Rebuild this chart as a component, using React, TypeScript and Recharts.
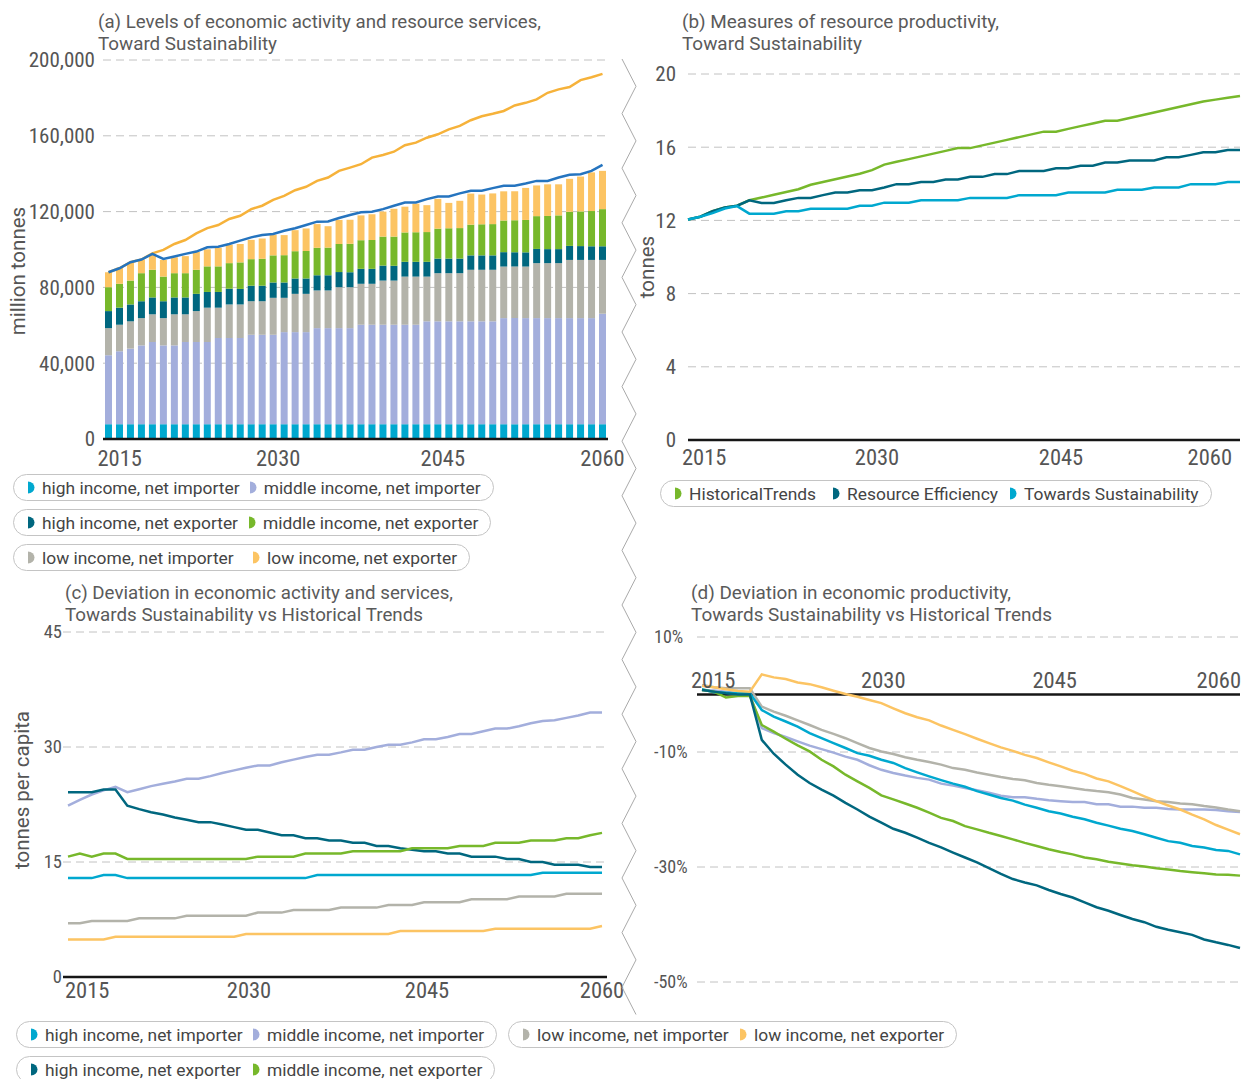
import React from "react";
import {
  ComposedChart,
  LineChart,
  Bar,
  Line,
  XAxis,
  YAxis,
  CartesianGrid,
  ReferenceLine,
  ReferenceDot,
} from "recharts";

// ---- categories ----
const YEARS = [
  2015, 2016, 2017, 2018, 2019, 2020, 2021, 2022, 2023, 2024,
  2025, 2026, 2027, 2028, 2029, 2030, 2031, 2032, 2033, 2034,
  2035, 2036, 2037, 2038, 2039, 2040, 2041, 2042, 2043, 2044,
  2045, 2046, 2047, 2048, 2049, 2050, 2051, 2052, 2053, 2054,
  2055, 2056, 2057, 2058, 2059, 2060,
];
const YEAR_TICKS = [2015, 2030, 2045, 2060];

// ---- (a) stacked levels, million tonnes ----
const A_HI_IMP = [
  7800, 7800, 7800, 7800, 7800, 7800, 7800, 7800, 7800, 7800,
  7800, 7800, 7800, 7800, 7800, 7800, 7800, 7800, 7800, 7800,
  7800, 7800, 7800, 7800, 7800, 7800, 7800, 7800, 7800, 7800,
  7800, 7800, 7800, 7800, 7800, 7800, 7800, 7800, 7800, 7800,
  7800, 7800, 7800, 7800, 7800, 7800,
];
const A_MID_IMP = [
  36400, 38500, 39900, 41600, 43400, 41600, 41600, 43400, 43400, 43400,
  45500, 45500, 45500, 47200, 47200, 47200, 48600, 48600, 48600, 50700,
  50700, 50700, 50700, 52500, 52500, 52500, 52500, 52500, 52500, 54300,
  54300, 54300, 54300, 54300, 54300, 54300, 56000, 56000, 56000, 56000,
  56000, 56000, 56000, 56000, 56000, 58300,
];
const A_LOW_IMP = [
  14300, 14000, 14400, 14400, 14600, 14400, 16400, 14600, 16300, 18100,
  16000, 17700, 17700, 17700, 17700, 19500, 18100, 20200, 20200, 19900,
  19900, 21600, 21600, 21600, 21600, 23300, 23300, 25400, 25400, 23600,
  25400, 25400, 25400, 27200, 27200, 27200, 27200, 27200, 27200, 29000,
  29000, 29000, 30700, 30700, 30700, 28400,
];
const A_HI_EXP = [
  9000, 9000, 8900, 8900, 8900, 8900, 8900, 8900, 9100, 8300,
  8300, 8300, 8200, 8200, 8200, 8100, 8100, 8100, 8100, 8000,
  8000, 8000, 7900, 7900, 7900, 7900, 7800, 7800, 7800, 7800,
  7700, 7700, 7700, 7600, 7600, 7600, 7600, 7500, 7500, 7500,
  7400, 7400, 7400, 7300, 7200, 7200,
];
const A_MID_EXP = [
  12600, 12600, 12600, 14800, 14600, 13000, 12800, 12800, 12700, 13500,
  13500, 13500, 14000, 14000, 14200, 14300, 14400, 14400, 14500, 14500,
  14600, 14800, 15000, 15100, 15200, 15300, 15400, 15500, 15600, 15700,
  15800, 16000, 16100, 16200, 16400, 16500, 16700, 16900, 17100, 17300,
  17500, 17800, 18000, 18300, 18600, 19600,
];
const A_LOW_EXP = [
  7900, 8500, 9400, 7200, 8000, 8800, 8400, 9000, 9400, 9000,
  9800, 9700, 9700, 10200, 10700, 10900, 10600, 11100, 11900, 12500,
  11300, 12700, 12700, 13100, 13600, 13200, 14700, 13600, 15100, 14200,
  15700, 13400, 14400, 16400, 15700, 16200, 15400, 15400, 16900, 16200,
  16700, 16400, 17400, 18400, 20400, 20200,
];
const A_TOTAL_HIST = [
  88000, 90100, 93300, 94700, 98000, 99800, 102900, 105000, 108500, 111300,
  112900, 116100, 117800, 121300, 123100, 126200, 128300, 131300, 133100, 136200,
  138000, 141500, 143200, 145000, 148500, 149900, 151600, 155000, 156400, 159000,
  160800, 163400, 165200, 168200, 170300, 171600, 173100, 176000, 177400, 179200,
  182700, 184500, 185700, 189400, 190900, 192700,
];
const A_TOTAL_TS = [
  88000, 90100, 93300, 94700, 97700, 95000, 96300, 97700, 98900, 101200,
  101500, 102900, 104700, 106400, 107700, 108200, 109900, 111200, 112900, 114700,
  114800, 116600, 118200, 119600, 119900, 121300, 123100, 124800, 124800, 126600,
  128000, 128000, 129600, 131000, 131000, 132400, 133600, 133600, 134800, 136200,
  136200, 138000, 139400, 139700, 141500, 144700,
];
const A_TICKS = [0, 40000, 80000, 120000, 160000, 200000];

// ---- (b) resource productivity, tonnes ----
const B_HIST = [
  12.05, 12.2, 12.5, 12.7, 12.8, 13.1, 13.25, 13.4, 13.55, 13.7,
  13.95, 14.1, 14.25, 14.4, 14.55, 14.75, 15.05, 15.2, 15.35, 15.5,
  15.65, 15.8, 15.95, 15.95, 16.1, 16.25, 16.4, 16.55, 16.7, 16.85,
  16.85, 17.0, 17.15, 17.3, 17.45, 17.45, 17.6, 17.75, 17.9, 18.05,
  18.2, 18.35, 18.5, 18.6, 18.7, 18.8,
];
const B_RE = [
  12.05, 12.2, 12.5, 12.7, 12.8, 13.1, 12.95, 12.95, 13.1, 13.23,
  13.23, 13.38, 13.52, 13.52, 13.65, 13.65, 13.8, 13.98, 13.98, 14.1,
  14.1, 14.24, 14.24, 14.38, 14.38, 14.53, 14.53, 14.7, 14.7, 14.7,
  14.85, 14.85, 14.99, 14.99, 15.16, 15.16, 15.27, 15.27, 15.27, 15.45,
  15.45, 15.58, 15.72, 15.72, 15.85, 15.85,
];
const B_TS = [
  12.05, 12.2, 12.4, 12.65, 12.78, 12.37, 12.37, 12.37, 12.5, 12.5,
  12.64, 12.64, 12.64, 12.64, 12.8, 12.8, 12.97, 12.97, 12.97, 13.1,
  13.1, 13.1, 13.1, 13.23, 13.23, 13.23, 13.23, 13.38, 13.38, 13.38,
  13.38, 13.52, 13.52, 13.52, 13.52, 13.67, 13.67, 13.67, 13.8, 13.8,
  13.8, 13.98, 13.98, 13.98, 14.1, 14.1,
];
const B_TICKS = [0, 4, 8, 12, 16, 20];

// ---- (c) tonnes per capita ----
const C_HI_IMP = [
  12.9, 12.9, 12.9, 13.3, 13.3, 12.9, 12.9, 12.9, 12.9, 12.9,
  12.9, 12.9, 12.9, 12.9, 12.9, 12.9, 12.9, 12.9, 12.9, 12.9,
  12.9, 13.3, 13.3, 13.3, 13.3, 13.3, 13.3, 13.3, 13.3, 13.3,
  13.3, 13.3, 13.3, 13.3, 13.3, 13.3, 13.3, 13.3, 13.3, 13.3,
  13.6, 13.6, 13.6, 13.6, 13.6, 13.6,
];
const C_MID_IMP = [
  22.35, 23.1, 23.8, 24.35, 24.8, 24.1, 24.5, 24.9, 25.2, 25.5,
  25.85, 25.85, 26.2, 26.6, 26.95, 27.3, 27.6, 27.6, 28.0, 28.35,
  28.7, 29.0, 29.0, 29.3, 29.65, 29.65, 30.0, 30.3, 30.3, 30.6,
  31.0, 31.0, 31.3, 31.7, 31.7, 32.05, 32.4, 32.4, 32.7, 33.1,
  33.4, 33.5, 33.8, 34.1, 34.5, 34.5,
];
const C_HI_EXP = [
  24.1, 24.1, 24.1, 24.45, 24.45, 22.35, 21.9, 21.5, 21.2, 20.8,
  20.5, 20.2, 20.2, 19.9, 19.55, 19.2, 19.2, 18.85, 18.5, 18.5,
  18.1, 18.1, 17.8, 17.8, 17.5, 17.5, 17.1, 17.1, 16.8, 16.6,
  16.4, 16.4, 16.1, 16.1, 15.7, 15.7, 15.7, 15.4, 15.4, 15.0,
  15.0, 14.65, 14.65, 14.65, 14.35, 14.35,
];
const C_MID_EXP = [
  15.7, 16.1, 15.7, 16.1, 16.1, 15.4, 15.4, 15.4, 15.4, 15.4,
  15.4, 15.4, 15.4, 15.4, 15.4, 15.4, 15.7, 15.7, 15.7, 15.7,
  16.1, 16.1, 16.1, 16.1, 16.4, 16.4, 16.4, 16.4, 16.4, 16.8,
  16.8, 16.8, 16.8, 17.1, 17.1, 17.1, 17.5, 17.5, 17.5, 17.8,
  17.8, 17.8, 18.1, 18.1, 18.5, 18.8,
];
const C_LOW_IMP = [
  7.0, 7.0, 7.3, 7.3, 7.3, 7.3, 7.65, 7.65, 7.65, 7.65,
  8.0, 8.0, 8.0, 8.0, 8.0, 8.0, 8.4, 8.4, 8.4, 8.75,
  8.75, 8.75, 8.75, 9.05, 9.05, 9.05, 9.05, 9.4, 9.4, 9.4,
  9.75, 9.75, 9.75, 9.75, 10.15, 10.15, 10.15, 10.15, 10.5, 10.5,
  10.5, 10.5, 10.85, 10.85, 10.85, 10.85,
];
const C_LOW_EXP = [
  4.9, 4.9, 4.9, 4.9, 5.25, 5.25, 5.25, 5.25, 5.25, 5.25,
  5.25, 5.25, 5.25, 5.25, 5.25, 5.6, 5.6, 5.6, 5.6, 5.6,
  5.6, 5.6, 5.6, 5.6, 5.6, 5.6, 5.6, 5.6, 6.0, 6.0,
  6.0, 6.0, 6.0, 6.0, 6.0, 6.0, 6.3, 6.3, 6.3, 6.3,
  6.3, 6.3, 6.3, 6.3, 6.3, 6.65,
];
const C_TICKS = [0, 15, 30, 45];

// ---- (d) deviation in productivity, % ----
const D_HI_IMP = [
  0.9, 0.4, 0.3, 0.2, 0.2, -2.7, -3.85, -4.7, -5.6, -6.7,
  -7.6, -8.45, -9.3, -10.2, -10.65, -11.35, -11.9, -12.8, -13.55, -14.25,
  -14.9, -15.5, -16.05, -16.8, -17.4, -18.0, -18.45, -19.15, -19.7, -20.3,
  -20.7, -21.25, -21.7, -22.3, -22.8, -23.35, -23.75, -24.3, -24.9, -25.5,
  -25.8, -26.35, -26.6, -27.05, -27.2, -27.8,
];
const D_MID_IMP = [
  0.8, 0.7, 0.5, 0.2, 0.0, -5.85, -6.7, -7.4, -8.15, -8.9,
  -9.5, -10.1, -10.8, -11.35, -12.3, -13.1, -13.65, -14.1, -14.5, -14.8,
  -15.5, -15.85, -16.25, -16.65, -17.1, -17.6, -17.85, -17.85, -18.15, -18.4,
  -18.55, -18.7, -18.7, -19.1, -19.1, -19.5, -19.5, -19.7, -19.7, -19.9,
  -20.0, -20.0, -20.0, -20.1, -20.3, -20.45,
];
const D_LOW_IMP = [
  1.65, 1.25, 1.07, 1.07, 1.07, -2.1, -2.98, -3.7, -4.5, -5.3,
  -6.15, -6.85, -7.6, -8.45, -9.3, -9.9, -10.35, -10.9, -11.35, -11.75,
  -12.2, -12.8, -13.1, -13.55, -13.95, -14.35, -14.7, -14.9, -15.4, -15.7,
  -15.95, -16.25, -16.55, -16.8, -17.0, -17.4, -18.0, -18.25, -18.55, -18.7,
  -18.95, -19.1, -19.4, -19.65, -20.0, -20.3,
];
const D_LOW_EXP = [
  1.47, 1.25, 0.9, 0.6, 0.5, 3.5, 2.98, 2.7, 2.1, 1.8,
  1.25, 0.66, 0.08, -0.38, -0.95, -1.5, -2.4, -3.26, -3.95, -4.5,
  -5.4, -6.15, -6.9, -7.7, -8.45, -9.2, -9.8, -10.5, -11.05, -11.8,
  -12.5, -13.25, -13.8, -14.6, -15.1, -15.95, -16.8, -17.7, -18.55, -19.3,
  -20.0, -20.9, -21.7, -22.7, -23.5, -24.3,
];
const D_HI_EXP = [
  0.8, 0.5, 0.2, 0.0, 0.0, -7.9, -10.3, -12.2, -13.95, -15.4,
  -16.55, -17.6, -18.85, -20.0, -21.25, -22.3, -23.35, -24.05, -24.9, -25.8,
  -26.6, -27.5, -28.35, -29.2, -30.2, -31.2, -32.1, -32.7, -33.2, -34.0,
  -34.7, -35.3, -36.15, -37.0, -37.6, -38.35, -39.05, -39.6, -40.4, -40.9,
  -41.35, -41.8, -42.6, -43.1, -43.55, -44.1,
];
const D_MID_EXP = [
  0.8, 0.5, -0.5, -0.25, -0.25, -5.3, -6.45, -7.7, -8.85, -9.9,
  -11.35, -12.5, -13.95, -15.1, -16.25, -17.55, -18.25, -18.95, -19.7, -20.55,
  -21.45, -22.0, -22.9, -23.45, -24.05, -24.6, -25.2, -25.8, -26.35, -26.9,
  -27.4, -27.8, -28.35, -28.65, -29.1, -29.4, -29.7, -29.9, -30.2, -30.45,
  -30.7, -30.9, -31.1, -31.3, -31.35, -31.5,
];
const D_TICKS = [10, -10, -30, -50];

// ---- styling ----
const FONT = "Roboto, 'Noto Sans', Arial, sans-serif";
const COND = { fontStretch: "condensed" };
const TEXT = "#555555";
const GRID = "#c2c2c2";
const AXIS = "#161616";

const CYAN = "#00a8cf";
const LAVENDER = "#a3aedc";
const GREY = "#b3b3aa";
const TEAL = "#00677f";
const GREEN = "#77b82b";
const YELLOW = "#fcc463";
const ORANGE = "#f6b23a";
const BLUE = "#2574bf";

const dataA = YEARS.map((year, i) => ({
  year,
  hiImp: A_HI_IMP[i],
  midImp: A_MID_IMP[i],
  lowImp: A_LOW_IMP[i],
  hiExp: A_HI_EXP[i],
  midExp: A_MID_EXP[i],
  lowExp: A_LOW_EXP[i],
  hist: A_TOTAL_HIST[i],
  ts: A_TOTAL_TS[i],
}));
const dataB = YEARS.map((year, i) => ({ year, hist: B_HIST[i], re: B_RE[i], ts: B_TS[i] }));
const dataC = YEARS.map((year, i) => ({
  year,
  hiImp: C_HI_IMP[i],
  midImp: C_MID_IMP[i],
  lowImp: C_LOW_IMP[i],
  hiExp: C_HI_EXP[i],
  midExp: C_MID_EXP[i],
  lowExp: C_LOW_EXP[i],
}));
const dataD = YEARS.map((year, i) => ({
  year,
  hiImp: D_HI_IMP[i],
  midImp: D_MID_IMP[i],
  lowImp: D_LOW_IMP[i],
  hiExp: D_HI_EXP[i],
  midExp: D_MID_EXP[i],
  lowExp: D_LOW_EXP[i],
}));

// year label: first one flush left, last one optionally flush right
const xTick = (firstDx: number, lastEnd: boolean, shift = 0) => (props: any) => {
  const { x, y, payload } = props;
  const v = payload.value;
  let anchor = "middle";
  let dx = shift;
  if (v === 2015) {
    anchor = "start";
    dx = firstDx;
  } else if (v === 2060) {
    anchor = lastEnd ? "end" : "middle";
    dx = 0;
  }
  return (
    <text x={x + dx} y={y} dy="0.71em" textAnchor={anchor} fill={TEXT} fontSize={22.5} fontFamily={FONT} style={COND}>
      {v}
    </text>
  );
};

const yTick = (size: number, fmt: (v: number) => string, startDx?: number) => (props: any) => {
  const { x, y, payload } = props;
  return (
    <text
      x={startDx !== undefined ? x + startDx : x}
      y={y}
      dy="0.35em"
      textAnchor={startDx !== undefined ? "start" : "end"}
      fill={TEXT}
      fontSize={size}
      fontFamily={FONT}
      style={COND}
    >
      {fmt(payload.value)}
    </text>
  );
};

const yearMark = (label: number, anchor: string, dx: number) => (p: any) => (
  <text x={p.cx + dx} y={p.cy - 7} textAnchor={anchor} fill={TEXT} fontSize={22.5} fontFamily={FONT} style={COND}>
    {label}
  </text>
);

type Item = { label: string; color: string };

function Pill({
  left,
  top,
  items,
  firstWidth,
  gaps = [10, 10],
}: {
  left: number;
  top: number;
  items: Item[];
  firstWidth?: number;
  gaps?: number[];
}) {
  return (
    <div
      style={{
        position: "absolute",
        left,
        top,
        height: 25,
        border: "1px solid #c4c4c4",
        borderRadius: 14,
        display: "flex",
        alignItems: "center",
        padding: "0 12px 0 14px",
        whiteSpace: "nowrap",
        fontFamily: FONT,
        fontSize: 17.4,
        color: "#444",
        background: "#fff",
      }}
    >
      {items.map((it, i) => (
        <span
          key={it.label}
          style={{
            display: "inline-flex",
            alignItems: "center",
            marginLeft: i ? gaps[i - 1] : 0,
            minWidth: i === 0 && firstWidth ? firstWidth - gaps[0] : undefined,
          }}
        >
          <svg width={7} height={13} style={{ display: "block" }}>
            <path d="M0 0.5 A6.5 6 0 0 1 0 12.5 Z" fill={it.color} />
          </svg>
          <span style={{ marginLeft: 7 }}>{it.label}</span>
        </span>
      ))}
    </div>
  );
}

const HI_IMP = { label: "high income, net importer", color: CYAN };
const MID_IMP = { label: "middle income, net importer", color: LAVENDER };
const HI_EXP = { label: "high income, net exporter", color: TEAL };
const MID_EXP = { label: "middle income, net exporter", color: GREEN };
const LOW_IMP = { label: "low income, net importer", color: GREY };
const LOW_EXP = { label: "low income, net exporter", color: YELLOW };

function zigzag() {
  const pts: string[] = [];
  for (let k = 0; 59 + k * 27.3 <= 1016; k++) {
    pts.push(`${k % 2 === 0 ? 622 : 636},${(59 + k * 27.3).toFixed(1)}`);
  }
  return pts.join(" ");
}

function Title({ x, y, w, children }: { x: number; y: number; w: number; children: string }) {
  return (
    <text
      x={x}
      y={y}
      textLength={w}
      lengthAdjust="spacingAndGlyphs"
      style={{ fontFamily: FONT, fontSize: 18.5, fill: "#5a5a5a" }}
    >
      {children}
    </text>
  );
}

const lineProps = { type: "linear" as const, dot: false, strokeWidth: 2.5, isAnimationActive: false };

export default function App() {
  const axisTitle = { fontFamily: FONT, fontSize: 20.5, fill: TEXT };
  return (
    <div style={{ position: "absolute", left: 0, top: 0, width: 1248, height: 1079, background: "#fff", overflow: "hidden" }}>
      {/* (a) */}
      <div style={{ position: "absolute", left: 0, top: 0 }}>
        <ComposedChart width={630} height={480} data={dataA} margin={{ top: 60, right: 22, bottom: 6, left: 0 }}>
          <CartesianGrid vertical={false} stroke={GRID} strokeDasharray="8 5" />
          <YAxis
            width={103}
            domain={[0, 200000]}
            ticks={A_TICKS}
            axisLine={false}
            tickLine={false}
            tickSize={0}
            tickMargin={8}
            tick={yTick(21, (v) => v.toLocaleString("en-US"))}
          />
          <XAxis
            dataKey="year"
            height={35}
            interval={14}
            axisLine={{ stroke: AXIS, strokeWidth: 2.5 }}
            tickLine={false}
            tickSize={0}
            tickMargin={11}
            tick={xTick(-11, false, 5)}
          />
          <Bar dataKey="hiImp" stackId="s" fill={CYAN} barSize={7} isAnimationActive={false} />
          <Bar dataKey="midImp" stackId="s" fill={LAVENDER} barSize={7} isAnimationActive={false} />
          <Bar dataKey="lowImp" stackId="s" fill={GREY} barSize={7} isAnimationActive={false} />
          <Bar dataKey="hiExp" stackId="s" fill={TEAL} barSize={7} isAnimationActive={false} />
          <Bar dataKey="midExp" stackId="s" fill={GREEN} barSize={7} isAnimationActive={false} />
          <Bar dataKey="lowExp" stackId="s" fill={YELLOW} barSize={7} isAnimationActive={false} />
          <Line dataKey="hist" stroke={ORANGE} {...lineProps} />
          <Line dataKey="ts" stroke={BLUE} {...lineProps} />
        </ComposedChart>
      </div>

      {/* (b) */}
      <div style={{ position: "absolute", left: 630, top: 0 }}>
        <LineChart width={618} height={480} data={dataB} margin={{ top: 74, right: 8, bottom: 5, left: 0 }}>
          <CartesianGrid vertical={false} stroke={GRID} strokeDasharray="8 5" />
          <YAxis
            width={58}
            domain={[0, 20]}
            ticks={B_TICKS}
            axisLine={false}
            tickLine={false}
            tickSize={0}
            tickMargin={12}
            tick={yTick(21, (v) => String(v))}
          />
          <XAxis
            dataKey="year"
            type="number"
            domain={[2015, 2060]}
            ticks={YEAR_TICKS}
            height={35}
            axisLine={{ stroke: AXIS, strokeWidth: 2.5 }}
            tickLine={false}
            tickSize={0}
            tickMargin={9}
            tick={xTick(-6, true, 5)}
          />
          <Line dataKey="hist" stroke={GREEN} {...lineProps} />
          <Line dataKey="re" stroke={TEAL} {...lineProps} />
          <Line dataKey="ts" stroke={CYAN} {...lineProps} />
        </LineChart>
      </div>

      {/* (c) */}
      <div style={{ position: "absolute", left: 0, top: 580 }}>
        <LineChart width={630} height={440} data={dataC} margin={{ top: 52, right: 23, bottom: 5, left: 0 }}>
          <CartesianGrid vertical={false} stroke={GRID} strokeDasharray="8 5" />
          <YAxis
            width={63}
            domain={[0, 45]}
            ticks={C_TICKS}
            axisLine={false}
            tickLine={false}
            tickSize={0}
            tickMargin={1}
            tick={yTick(18.5, (v) => String(v))}
          />
          <XAxis
            dataKey="year"
            type="number"
            domain={[2015, 2060]}
            ticks={YEAR_TICKS}
            padding={{ left: 5, right: 5 }}
            height={38}
            axisLine={{ stroke: AXIS, strokeWidth: 2.5 }}
            tickLine={false}
            tickSize={0}
            tickMargin={5}
            tick={xTick(-3, false, 3)}
          />
          <Line dataKey="midImp" stroke={LAVENDER} {...lineProps} />
          <Line dataKey="hiExp" stroke={TEAL} {...lineProps} />
          <Line dataKey="midExp" stroke={GREEN} {...lineProps} />
          <Line dataKey="hiImp" stroke={CYAN} {...lineProps} />
          <Line dataKey="lowImp" stroke={GREY} {...lineProps} />
          <Line dataKey="lowExp" stroke={YELLOW} {...lineProps} />
        </LineChart>
      </div>

      {/* (d) */}
      <div style={{ position: "absolute", left: 630, top: 580 }}>
        <LineChart width={618} height={440} data={dataD} margin={{ top: 57, right: 8, bottom: 38, left: 0 }}>
          <CartesianGrid vertical={false} stroke={GRID} strokeDasharray="8 5" />
          <YAxis
            width={67}
            domain={[-50, 10]}
            ticks={D_TICKS}
            axisLine={false}
            tickLine={false}
            tickSize={0}
            tickMargin={0}
            tick={yTick(18, (v) => `${v}%`, -43)}
          />
          <XAxis dataKey="year" type="number" domain={[2015, 2060]} padding={{ left: 5, right: 0 }} hide />
          <ReferenceLine y={0} stroke={AXIS} strokeWidth={2.5} />
          <ReferenceDot x={2015} y={0} r={0} ifOverflow="visible" shape={yearMark(2015, "start", -11)} />
          <ReferenceDot x={2030} y={0} r={0} ifOverflow="visible" shape={yearMark(2030, "middle", 2)} />
          <ReferenceDot x={2045} y={0} r={0} ifOverflow="visible" shape={yearMark(2045, "middle", -6)} />
          <ReferenceDot x={2060} y={0} r={0} ifOverflow="visible" shape={yearMark(2060, "end", 1)} />
          <Line dataKey="midImp" stroke={LAVENDER} {...lineProps} />
          <Line dataKey="lowImp" stroke={GREY} {...lineProps} />
          <Line dataKey="hiImp" stroke={CYAN} {...lineProps} />
          <Line dataKey="lowExp" stroke={YELLOW} {...lineProps} />
          <Line dataKey="midExp" stroke={GREEN} {...lineProps} />
          <Line dataKey="hiExp" stroke={TEAL} {...lineProps} />
        </LineChart>
      </div>

      {/* titles, axis titles, divider */}
      <svg width={1248} height={1079} style={{ position: "absolute", left: 0, top: 0, pointerEvents: "none" }}>
        <Title x={98} y={28} w={443}>(a) Levels of economic activity and resource services,</Title>
        <Title x={98} y={50} w={179}>Toward Sustainability</Title>
        <Title x={682} y={28} w={317}>(b) Measures of resource productivity,</Title>
        <Title x={682} y={50} w={180}>Toward Sustainability</Title>
        <Title x={65} y={599} w={388}>(c) Deviation in economic activity and services,</Title>
        <Title x={65} y={621} w={358}>Towards Sustainability vs Historical Trends</Title>
        <Title x={691} y={599} w={320}>(d) Deviation in economic productivity,</Title>
        <Title x={691} y={621} w={361}>Towards Sustainability vs Historical Trends</Title>

        <text transform="translate(18,271) rotate(-90)" textAnchor="middle" dominantBaseline="central" style={axisTitle}>
          million tonnes
        </text>
        <text transform="translate(647,267) rotate(-90)" textAnchor="middle" dominantBaseline="central" style={axisTitle}>
          tonnes
        </text>
        <text transform="translate(22,790) rotate(-90)" textAnchor="middle" dominantBaseline="central" style={axisTitle}>
          tonnes per capita
        </text>

        <polyline points={zigzag()} fill="none" stroke="#aaaaaa" strokeWidth={1} />
      </svg>

      {/* legends */}
      <Pill left={13} top={474} items={[HI_IMP, MID_IMP]} firstWidth={221} />
      <Pill left={13} top={509} items={[HI_EXP, MID_EXP]} firstWidth={221} />
      <Pill left={13} top={544} items={[LOW_IMP, LOW_EXP]} firstWidth={225} />
      <Pill
        left={660}
        top={480}
        gaps={[17, 12]}
        items={[
          { label: "HistoricalTrends", color: GREEN },
          { label: "Resource Efficiency", color: TEAL },
          { label: "Towards Sustainability", color: CYAN },
        ]}
      />
      <Pill left={16} top={1021} items={[HI_IMP, MID_IMP]} firstWidth={222} />
      <Pill left={508} top={1021} items={[LOW_IMP, LOW_EXP]} firstWidth={217} />
      <Pill left={16} top={1056} items={[HI_EXP, MID_EXP]} firstWidth={222} />
    </div>
  );
}
